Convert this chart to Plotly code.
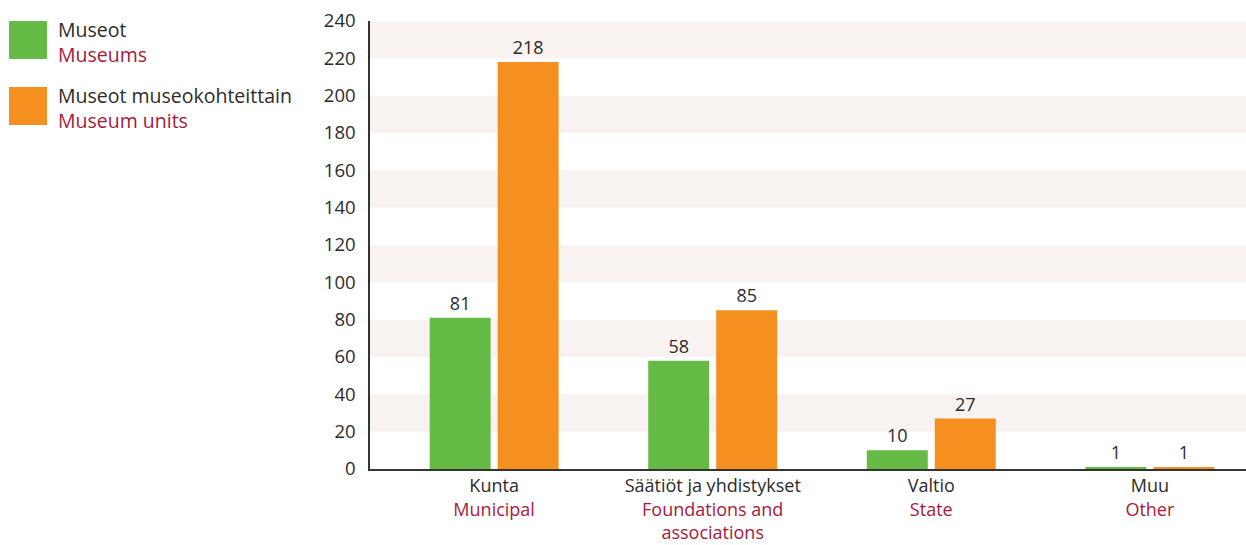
import plotly.graph_objects as go

categories_fi = ["Kunta", "Säätiöt ja yhdistykset", "Valtio", "Muu"]
categories_en = ["Municipal", "Foundations and<br>associations", "State", "Other"]
museums = [81, 58, 10, 1]
museum_units = [218, 85, 27, 1]
series_fi = ["Museot", "Museot museokohteittain"]
series_en = ["Museums", "Museum units"]
y_ticks = list(range(0, 241, 20))

GREEN = "#66bb46"
ORANGE = "#f58f20"
RED = "#a6193c"
TXT = "#2b2b2b"
BAND = "#f8f3f1"
FONT = "Open Sans, Lato, sans-serif"

W, H = 1246, 545
L, R, T, B = 370, 0, 21, 76
PW = W - L - R
PH = H - T - B


def px_x(x):
    return (x - L) / PW


def px_y(y):
    return 1 - (y - T) / PH


def red_lines(s):
    return "<br>".join(f"<span style='color:{RED}'>{p}</span>" for p in s.split("<br>"))


ticktext = [f"{fi}<br>{red_lines(en)}" for fi, en in zip(categories_fi, categories_en)]

fig = go.Figure()
for vals, col, name in [(museums, GREEN, series_en[0]), (museum_units, ORANGE, series_en[1])]:
    fig.add_trace(go.Bar(
        x=categories_fi, y=vals, name=name, marker=dict(color=col, line=dict(width=0)),
        text=[str(v) for v in vals], textposition="outside",
        textfont=dict(size=18, color=TXT, family=FONT), cliponaxis=False,
        showlegend=False,
    ))

shapes = []
for lo in range(20, 240, 40):
    shapes.append(dict(type="rect", xref="paper", yref="y", x0=0, x1=1, y0=lo, y1=lo + 20,
                       fillcolor=BAND, line=dict(width=0), layer="below"))

annotations = []
legend_pos = [(21, 59), (87, 125)]
for (y0, y1), col, fi, en in zip(legend_pos, [GREEN, ORANGE], series_fi, series_en):
    shapes.append(dict(type="rect", xref="paper", yref="paper",
                       x0=px_x(9), x1=px_x(47), y0=px_y(y1), y1=px_y(y0),
                       fillcolor=col, line=dict(width=0)))
    annotations.append(dict(xref="paper", yref="paper", x=px_x(56), y=px_y((y0 + y1) / 2 + 2),
                            xanchor="left", yanchor="middle", showarrow=False, align="left",
                            text=f"{fi}<br><span style='color:{RED}'>{en}</span>",
                            font=dict(size=19.5, color=TXT, family=FONT)))

fig.update_layout(
    width=W, height=H, autosize=False,
    margin=dict(l=L, r=R, t=T, b=B, pad=0),
    paper_bgcolor="white", plot_bgcolor="white",
    barmode="group", bargap=0.378, bargroupgap=0.103,
    font=dict(family=FONT, size=19, color=TXT),
    shapes=shapes, annotations=annotations,
    xaxis=dict(type="category", range=[-0.568, 3.44], tickmode="array",
               tickvals=categories_fi, ticktext=ticktext, showgrid=False,
               showline=True, linecolor="#333333", linewidth=1.5, ticks="",
               ticklabelstandoff=0, automargin=False,
               tickfont=dict(size=18, color=TXT, family=FONT), fixedrange=True),
    yaxis=dict(range=[0, 240], tickvals=y_ticks, showgrid=False, zeroline=False,
               showline=True, linecolor="#333333", linewidth=1.5, ticks="",
               ticklabelstandoff=9, automargin=False,
               tickfont=dict(size=18.5, color=TXT, family=FONT), fixedrange=True),
)

fig.write_html("out.html", config={"displayModeBar": False},
               post_script="document.body.style.margin='0';document.body.style.padding='0';")
